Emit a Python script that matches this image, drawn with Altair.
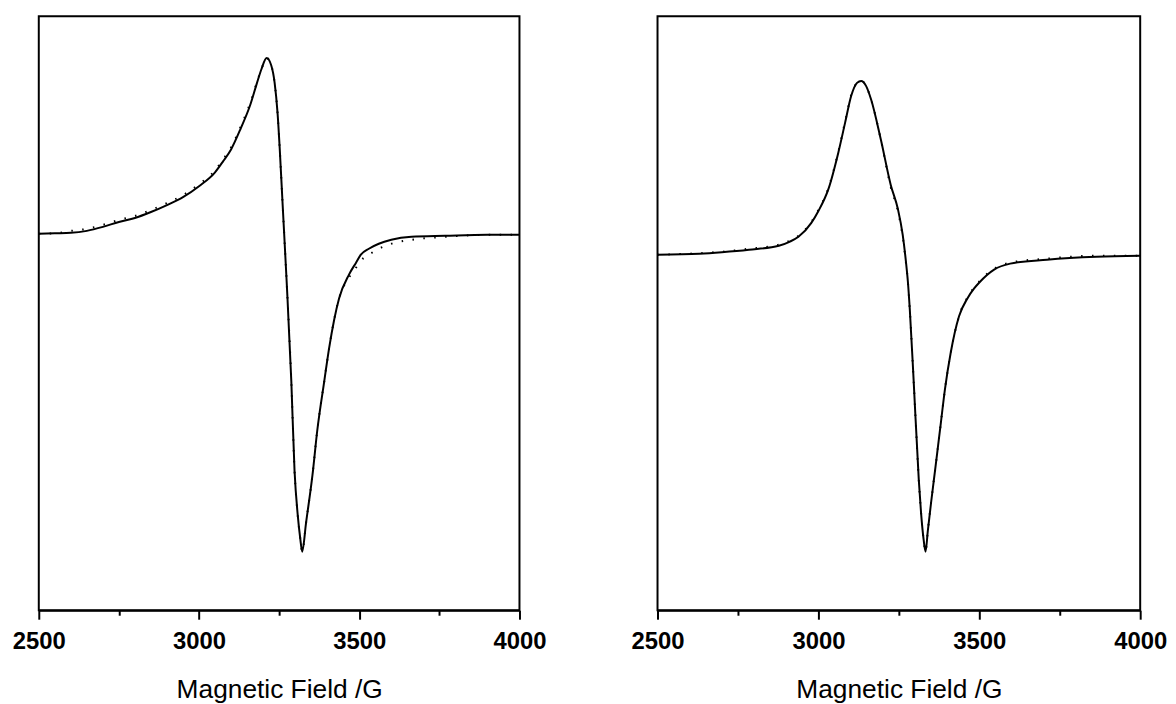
import altair as alt
import pandas as pd

# ---- Left panel (values in arbitrary intensity units) ----
left_field = [2500, 2550, 2600, 2650, 2700, 2750, 2800, 2850, 2900, 2950, 3000, 3050,
              3075, 3100, 3130, 3160, 3180, 3195, 3211, 3225, 3236, 3245, 3252, 3261,
              3273, 3288, 3298, 3308, 3316, 3322, 3334, 3354, 3369, 3391, 3406, 3437,
              3468, 3490, 3505, 3530, 3561, 3600, 3663, 3768, 3900, 4000]
left_fit = [379, 379.5, 380, 382, 386, 391, 395, 401, 408, 416, 427, 441,
            452, 464, 485, 509, 530, 545, 556, 549, 531, 501, 464, 408,
            334, 231, 141, 96, 72, 59, 88, 136, 181, 231, 264, 314,
            338, 350, 358, 364, 369, 373, 376, 377, 378, 378]
left_exp = [379, 379.5, 382, 384, 388, 393, 397, 403, 410, 418, 429, 443,
            454, 466, 487, 511, 531, 545, 556, 549, 531, 501, 464, 408,
            334, 231, 141, 96, 72, 59, 88, 136, 181, 231, 264, 314,
            335, 345, 352, 358, 364, 369, 373, 376, 378, 378]

# ---- Right panel ----
right_field = [2500, 2630, 2700, 2784, 2877, 2910, 2938, 2978, 3000, 3031, 3062, 3083,
               3102, 3120, 3133, 3148, 3164, 3194, 3225, 3247, 3262, 3272, 3278, 3284,
               3296, 3312, 3319, 3327, 3333, 3340, 3350, 3363, 3372, 3381, 3393, 3411,
               3437, 3463, 3484, 3500, 3546, 3596, 3710, 3864, 4000]
right_fit = [358, 359, 360.5, 363, 367, 371, 376, 390, 402, 424, 461, 491,
             518, 531, 533, 528, 514, 474, 428, 404, 378, 351, 331, 303,
             231, 131, 98, 71, 59, 80, 108, 142, 166, 190, 222, 259,
             296, 314, 324, 330, 343, 349, 353, 356, 357]
right_exp = [358, 359.5, 361, 364, 368, 372, 377, 391, 403, 425, 462, 492,
             519, 531, 533, 528, 514, 474, 426, 402, 376, 350, 331, 303,
             231, 131, 98, 71, 59, 80, 108, 142, 166, 190, 222, 259,
             296, 315, 325, 331, 344, 350, 354, 357, 357]

FONT = "Liberation Sans"


def panel(fields, fit, exp, width):
    df = pd.DataFrame({"field": fields, "fit": fit, "exp": exp})
    x = alt.X(
        "field:Q",
        scale=alt.Scale(domain=[2500, 4000], nice=False, zero=False),
        axis=alt.Axis(
            values=[2500, 2750, 3000, 3250, 3500, 3750, 4000],
            format="d",
            labelExpr="datum.value % 500 === 0 ? datum.label : ''",
            tickSize={"condition": {"test": "datum.value % 500 === 0", "value": 9}, "value": 5},
            tickWidth=2,
            tickColor="black",
            domainColor="black",
            domainWidth=2,
            grid=False,
            labelFlush=False,
            labelOverlap=False,
            labelBound=False,
            labelFont=FONT,
            labelFontSize=24,
            labelFontWeight="bold",
            labelColor="black",
            labelPadding=11,
            title="Magnetic Field /G",
            titleFont=FONT,
            titleFontSize=26.5,
            titleFontWeight="normal",
            titleColor="black",
            titlePadding=23,
        ),
    )
    y_scale = alt.Scale(domain=[0, 598], nice=False, zero=False)
    base = alt.Chart(df)
    fit_line = base.mark_line(color="black", strokeWidth=2, interpolate="monotone").encode(
        x=x, y=alt.Y("fit:Q", scale=y_scale, axis=None)
    )
    exp_line = base.mark_line(color="black", strokeWidth=2, strokeDash=[1.5, 9.5],
                              interpolate="monotone").encode(
        x=x, y=alt.Y("exp:Q", scale=y_scale, axis=None)
    )
    return alt.layer(exp_line, fit_line).properties(width=width, height=598)


left = panel(left_field, left_fit, left_exp, 484)
right = panel(right_field, right_fit, right_exp, 486)

chart = (
    alt.hconcat(left, right, spacing=83)
    .properties(padding={"left": 3, "top": 5, "right": 0, "bottom": 0}, background="white")
    .configure_view(stroke="black", strokeWidth=2)
)

chart.save("out.html", embed_options={"renderer": "svg", "actions": False})
